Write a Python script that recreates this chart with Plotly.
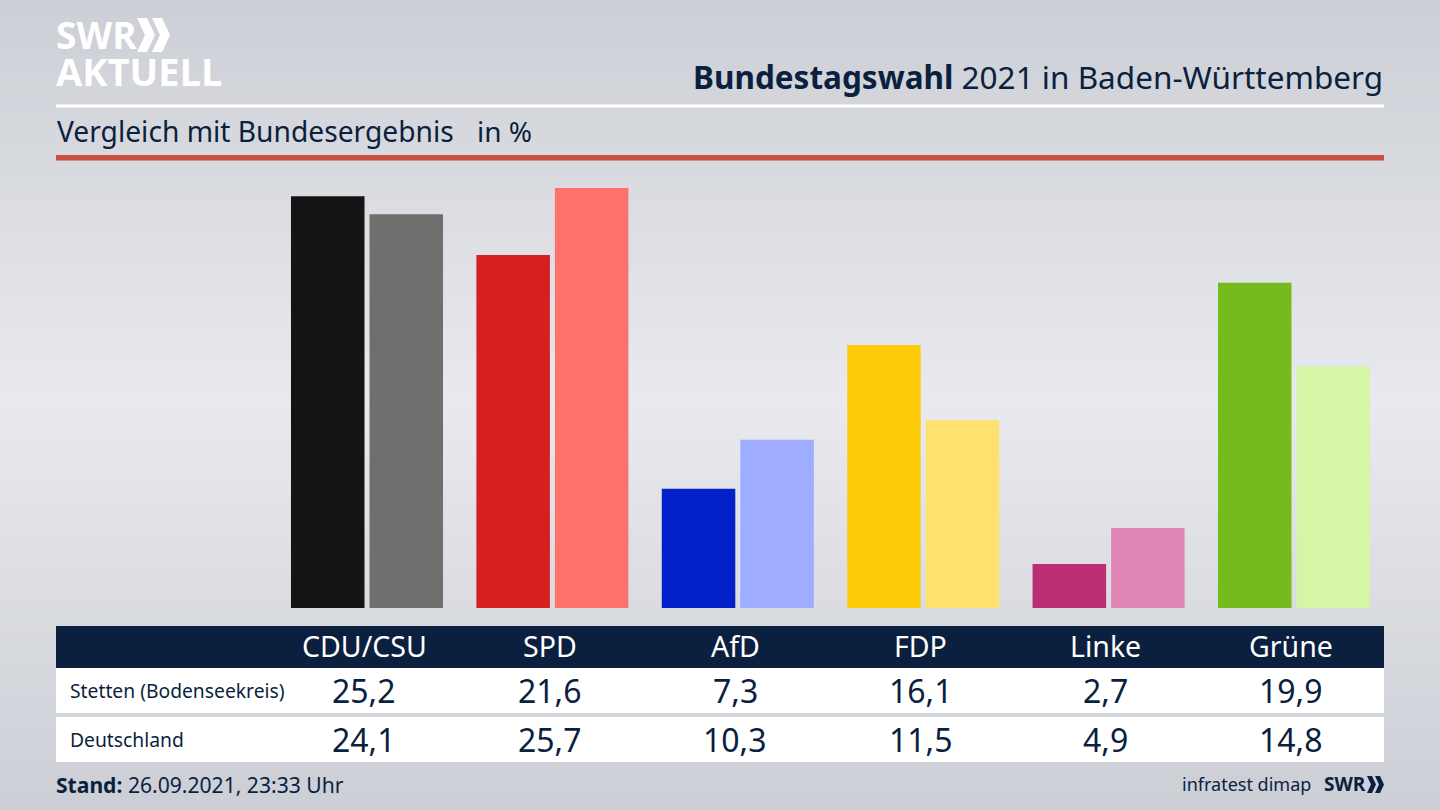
import plotly.graph_objects as go

parties = ["CDU/CSU", "SPD", "AfD", "FDP", "Linke", "Grüne"]
stetten = [25.2, 21.6, 7.3, 16.1, 2.7, 19.9]
deutschland = [24.1, 25.7, 10.3, 11.5, 4.9, 14.8]
row_names = ["Stetten (Bodenseekreis)", "Deutschland"]
colors_a = ["#141414", "#d61f1f", "#0220c8", "#ffcc0a", "#bb2d75", "#76bb1c"]
colors_b = ["#706f6d", "#ff726c", "#9eadff", "#ffe170", "#df88b7", "#d4f6a6"]

W, H = 1440, 810
NAVY = "#0b1f3f"
FONT = "Noto Sans"
def X(p): return p / W
def Y(p): return 1 - p / H

fig = go.Figure()
fig.add_bar(x=parties, y=stetten, name=row_names[0], marker=dict(color=colors_a, line_width=0))
fig.add_bar(x=parties, y=deutschland, name=row_names[1], marker=dict(color=colors_b, line_width=0))

shapes = []
def rect(x0, y0, x1, y1, color):
    shapes.append(dict(type="rect", xref="paper", yref="paper", x0=X(x0), x1=X(x1),
                       y0=Y(y1), y1=Y(y0), fillcolor=color, line_width=0, layer="below"))

# background gradient
stops = [(0, (204, 207, 213)), (400, (233, 234, 239)), (810, (203, 206, 212))]
for i in range(0, H, 6):
    (a, ca), (b, cb) = (stops[0], stops[1]) if i < 400 else (stops[1], stops[2])
    t = (i - a) / (b - a)
    c = tuple(round(ca[k] + (cb[k] - ca[k]) * t) for k in range(3))
    rect(0, i, W, i + 6, f"rgb({c[0]},{c[1]},{c[2]})")

rect(56, 104.5, 1384, 107.5, "#ffffff")
rect(56, 155, 1384, 160.5, "#c9503f")
rect(56, 626, 1384, 668, NAVY)
rect(56, 668, 1384, 713, "#ffffff")
rect(56, 717, 1384, 762, "#ffffff")

# chevrons of the logos
def chevron(x, y, w, h, arm, color):
    m = y + h / 2
    path = (f"M {X(x)} {Y(y)} L {X(x + arm)} {Y(y)} L {X(x + w)} {Y(m)} "
            f"L {X(x + arm)} {Y(y + h)} L {X(x)} {Y(y + h)} L {X(x + w - arm)} {Y(m)} Z")
    shapes.append(dict(type="path", xref="paper", yref="paper", path=path, fillcolor=color, line_width=0))
chevron(137, 18, 18, 34, 10, "#ffffff")
chevron(152, 18, 18, 34, 10, "#ffffff")
chevron(1367, 776, 9, 17, 5, NAVY)
chevron(1375, 776, 9, 17, 5, NAVY)

ann = []
def text(x, y, s, size, color=NAVY, anchor="left", family=FONT, height=None):
    d = dict(xref="paper", yref="paper", x=X(x), y=Y(y), text=s, showarrow=False,
             xanchor=anchor, yanchor="middle", align=anchor,
             font=dict(size=size, color=color, family=family))
    if height:
        d["height"] = height
    ann.append(d)

text(54, 34, "<b>SWR</b>", 37, "#ffffff", family="Open Sans", height=34)
text(54, 71.5, "<b>AKTUELL</b>", 38, "#ffffff", family="Open Sans", height=34)
text(1385, 76.5, "<b>Bundestagswahl</b> 2021 in Baden-Württemberg", 31.5, anchor="right")
text(55, 131.5, "Vergleich mit Bundesergebnis", 28.2)
text(475, 131.5, "in %", 28)

cx0, step = 364.3, 185.4
for i, p in enumerate(parties):
    cx = cx0 + step * i
    text(cx, 646, p, 28.5, "#ffffff", "center")
    text(cx, 690.5, f"{stetten[i]:.1f}".replace(".", ","), 32, NAVY, "center")
    text(cx, 739, f"{deutschland[i]:.1f}".replace(".", ","), 32, NAVY, "center")
text(68, 690, row_names[0], 19.3)
text(68, 739, row_names[1], 19.3)
text(54, 784, "<b>Stand:</b> 26.09.2021, 23:33 Uhr", 21.1)
text(1313, 784, "infratest dimap", 18, anchor="right")
text(1368, 784, "<b>SWR</b>", 19, anchor="right", family="Open Sans")

left, right, base, top = 56, 1384, 608, 160
first, pitch = 367, 185.4
unit = 16.34
fig.update_layout(
    width=W, height=H, margin=dict(l=0, r=0, t=0, b=0), showlegend=False,
    paper_bgcolor="#e0e2e7", plot_bgcolor="rgba(0,0,0,0)",
    barmode="group", bargap=0.153, bargroupgap=0.0637,
    shapes=shapes, annotations=ann,
    xaxis=dict(domain=[X(left), X(right)], range=[(left - first) / pitch, (right - first) / pitch],
               visible=False, type="category"),
    yaxis=dict(domain=[Y(base), Y(top)], range=[0, (base - top) / unit], visible=False),
)
fig.write_html("out.html", post_script="document.body.style.margin='0';",
               config={"displayModeBar": False})
